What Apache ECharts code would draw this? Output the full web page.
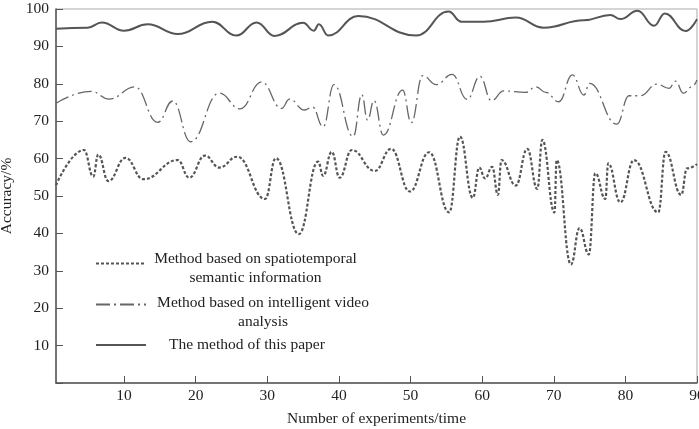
<!DOCTYPE html>
<html>
<head>
<meta charset="utf-8">
<script src="https://cdn.jsdelivr.net/npm/echarts@6/dist/echarts.min.js"></script>
<style>
  html, body { margin: 0; padding: 0; background: #fff; }
  #chart { width: 699px; height: 429px; }
</style>
</head>
<body>
<div id="chart"></div>
<script>
// series names
const names = [
  'Method based on spatiotemporal\nsemantic information',
  'Method based on intelligent video\nanalysis',
  'The method of this paper'
]

// x ticks shown on the bottom axis
const xTicks = [10, 20, 30, 40, 50, 60, 70, 80, 90]

// the method of this paper (solid)
const oursX = [0.5, 4.9, 6.9, 10.0, 13.3, 17.5, 22.3, 25.7, 28.5, 31.0, 35.0, 36.5, 37.2, 38.5, 42.7, 50.8, 55.3, 57.1, 60.2, 64.7, 68.6, 74.2, 77.9, 79.3, 81.7, 84.0, 85.5, 88.4, 90]
const oursY = [94.7, 95.0, 96.4, 94.2, 95.9, 93.3, 96.6, 92.9, 96.4, 92.8, 96.3, 94.2, 95.9, 92.9, 98.1, 92.9, 99.3, 96.6, 96.6, 97.7, 95.0, 97.0, 98.4, 97.3, 99.5, 95.5, 98.8, 94.1, 97.3]

// intelligent video analysis (dash-dot)
const videoX = [0.5, 5.4, 7.9, 11.5, 14.7, 16.8, 19.3, 23.3, 26.2, 29.2, 32.0, 33.1, 35.2, 36.3, 37.8, 39.3, 42.0, 43.2, 44.0, 44.9, 46.2, 48.9, 50.1, 51.7, 53.6, 55.8, 57.9, 59.7, 61.3, 63.0, 66.1, 67.5, 68.9, 70.7, 72.6, 74.2, 75.0, 78.8, 80.5, 82.1, 84.4, 86.1, 87.0, 88.1, 89.3, 90]
const videoY = [74.8, 78.0, 75.9, 79.2, 69.7, 75.4, 64.5, 77.5, 73.3, 80.5, 73.4, 75.9, 73.0, 73.8, 68.5, 79.8, 65.9, 77.1, 70.3, 75.5, 66.3, 78.3, 69.6, 82.2, 79.8, 82.5, 75.8, 82.0, 75.5, 78.1, 77.7, 79.2, 77.7, 75.2, 82.4, 77.0, 80.1, 69.2, 76.8, 76.8, 79.9, 78.8, 80.7, 77.5, 79.2, 81.0]

// spatiotemporal semantic information (dotted)
const semX = [0.5, 4.4, 5.7, 6.4, 7.8, 10.2, 12.7, 17.5, 19.1, 21.3, 23.3, 25.8, 29.7, 31.2, 34.4, 37.1, 37.8, 39.0, 40.1, 41.8, 45.0, 47.3, 49.9, 52.6, 55.4, 56.9, 58.7, 59.6, 60.4, 61.4, 62.2, 62.7, 64.7, 66.3, 67.7, 68.4, 70.1, 70.4, 72.4, 73.6, 74.9, 75.8, 77.2, 77.6, 79.3, 81.2, 84.6, 85.6, 87.8, 88.6, 90]
const semY = [52.9, 62.3, 55.2, 61.1, 54.0, 60.2, 54.5, 59.6, 54.9, 60.8, 57.6, 60.5, 49.2, 60.1, 39.8, 59.2, 55.4, 61.8, 54.9, 62.3, 56.7, 62.6, 51.2, 61.7, 45.6, 65.9, 49.5, 57.6, 54.7, 57.8, 50.3, 59.6, 52.8, 62.6, 51.9, 65.0, 45.6, 59.6, 31.7, 41.4, 34.4, 56.1, 49.2, 58.7, 48.3, 59.6, 45.6, 61.8, 50.3, 57.4, 58.5]

const zip = (xs, ys) => xs.map((x, i) => [x, ys[i]])

const font = 'Liberation Serif'
const fs = 15.5
const ink = '#222'
const chartBox = echarts.init(document.getElementById('chart'))

// one legend per row so each row sits where the picture has it
const legendRow = (name, top, width, gap) => ({
  left: 95,
  top: top,
  padding: 0,
  itemWidth: 50,
  itemHeight: 10,
  itemGap: 0,
  data: [name],
  itemStyle: { opacity: 0 },
  formatter: function (n) {
    const lines = n.split('\n').map(s => '{t|' + s + '}')
    return (gap ? '{g| }\n' : '') + lines.join('\n')
  },
  textStyle: {
    fontFamily: font,
    fontSize: fs,
    color: ink,
    rich: {
      t: { width: width, align: 'center', lineHeight: 19, fontFamily: font, fontSize: fs, color: ink },
      g: { lineHeight: gap || 1, fontSize: 1 }
    }
  }
})

const option = {
  backgroundColor: '#fff',
  animation: false,
  grid: {
    left: 56,
    right: 2,
    top: 9,
    bottom: 46,
    outerBoundsMode: 'none',
    containLabel: false,
    show: true,
    borderColor: '#aaa',
    borderWidth: 1
  },
  legend: [
    legendRow(names[0], 244, 209, 9),
    legendRow(names[1], 285, 224, 15),
    legendRow(names[2], 337, 192, 0)
  ],
  xAxis: {
    type: 'value',
    min: 0.5,
    max: 90,
    name: 'Number of experiments/time',
    nameLocation: 'middle',
    nameGap: 28,
    nameTextStyle: { fontFamily: font, fontSize: fs, color: ink },
    axisLine: { lineStyle: { color: '#555', width: 1.5 } },
    axisTick: { inside: true, length: 7, customValues: xTicks, lineStyle: { color: '#555' } },
    axisLabel: { customValues: xTicks, margin: 5, fontFamily: font, fontSize: fs, color: ink },
    splitLine: { show: false }
  },
  yAxis: {
    type: 'value',
    min: 0,
    max: 100,
    interval: 10,
    name: 'Accuracy/%',
    nameLocation: 'middle',
    nameGap: 38,
    nameTextStyle: { fontFamily: font, fontSize: fs, color: ink },
    axisLine: { show: true, lineStyle: { color: '#555', width: 1.5 } },
    axisTick: { show: true, inside: true, length: 7, lineStyle: { color: '#555' } },
    axisLabel: {
      margin: 7,
      fontFamily: font,
      fontSize: fs,
      color: ink,
      formatter: v => (v === 0 ? '' : v)
    },
    splitLine: { show: false }
  },
  series: [
    {
      name: names[0],
      type: 'line',
      color: '#555',
      smooth: 0.45,
      smoothMonotone: 'x',
      symbol: 'none',
      data: zip(semX, semY),
      lineStyle: { color: '#555', width: 2.2, type: [3, 2] }
    },
    {
      name: names[1],
      type: 'line',
      color: '#666',
      smooth: 0.45,
      smoothMonotone: 'x',
      symbol: 'none',
      data: zip(videoX, videoY),
      lineStyle: { color: '#666', width: 1.3, type: [14, 4, 2, 4] }
    },
    {
      name: names[2],
      type: 'line',
      color: '#555',
      smooth: 0.45,
      smoothMonotone: 'x',
      symbol: 'none',
      data: zip(oursX, oursY),
      lineStyle: { color: '#555', width: 2 }
    }
  ]
}

chartBox.setOption(option, true)
</script>
</body>
</html>
